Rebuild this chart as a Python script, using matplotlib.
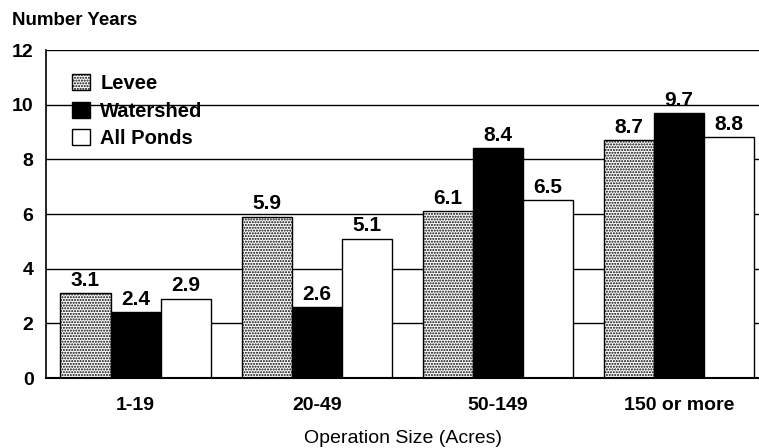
import numpy as np
import matplotlib.pyplot as plt

plt.rcParams['font.family'] = ['Liberation Sans', 'DejaVu Sans']
plt.rcParams['hatch.linewidth'] = 1.0

categories = ['1-19', '20-49', '50-149', '150 or more']
levee = [3.1, 5.9, 6.1, 8.7]
watershed = [2.4, 2.6, 8.4, 9.7]
all_ponds = [2.9, 5.1, 6.5, 8.8]

fig = plt.figure(figsize=(7.59, 4.48), dpi=100)
ax = fig.add_axes([46 / 759, 1 - 378 / 448, 713 / 759, 328 / 448])

x = np.arange(len(categories))
w = 0.276

b1 = ax.bar(x - w, levee, w, color='white', edgecolor='black', hatch='......', linewidth=1, label='Levee', zorder=2)
b2 = ax.bar(x, watershed, w, color='black', edgecolor='black', linewidth=1, label='Watershed', zorder=2)
b3 = ax.bar(x + w, all_ponds, w, color='white', edgecolor='black', linewidth=1, label='All Ponds', zorder=2)

for bars, vals in ((b1, levee), (b2, watershed), (b3, all_ponds)):
    for r, v in zip(bars, vals):
        ax.text(r.get_x() + r.get_width() / 2, v + 0.12, f'{v:.1f}', ha='center', va='bottom',
                fontsize=15, fontweight='bold', zorder=3)

ax.set_xlim(-0.494, 3.441)
ax.set_ylim(0, 12)
ax.set_yticks(range(0, 13, 2))
ax.set_xticks(x)
ax.set_xticklabels(categories, fontsize=14, fontweight='bold')
for t in ax.get_yticklabels():
    t.set_fontsize(14)
    t.set_fontweight('bold')
ax.tick_params(axis='y', length=0, pad=9)
ax.tick_params(axis='x', length=0, pad=14)

ax.set_axisbelow(True)
ax.yaxis.grid(True, color='black', linewidth=1)
ax.spines['right'].set_visible(False)
ax.spines['top'].set_visible(False)
ax.spines['left'].set_linewidth(1.2)
ax.spines['bottom'].set_linewidth(1.5)

ax.set_xlabel('Operation Size (Acres)', fontsize=14, labelpad=11)
fig.text(12 / 759, 1 - 25 / 448, 'Number Years', fontsize=13.5, fontweight='bold', ha='left', va='baseline')

leg = ax.legend(loc='upper left', bbox_to_anchor=(0.0365, 0.926), frameon=False, borderpad=0,
                borderaxespad=0, prop={'size': 14.5, 'weight': 'bold'}, handlelength=0.9,
                handleheight=0.85, handletextpad=0.5, labelspacing=0.42)
leg.set_zorder(0.3)

fig.savefig('out.png', dpi=100)
